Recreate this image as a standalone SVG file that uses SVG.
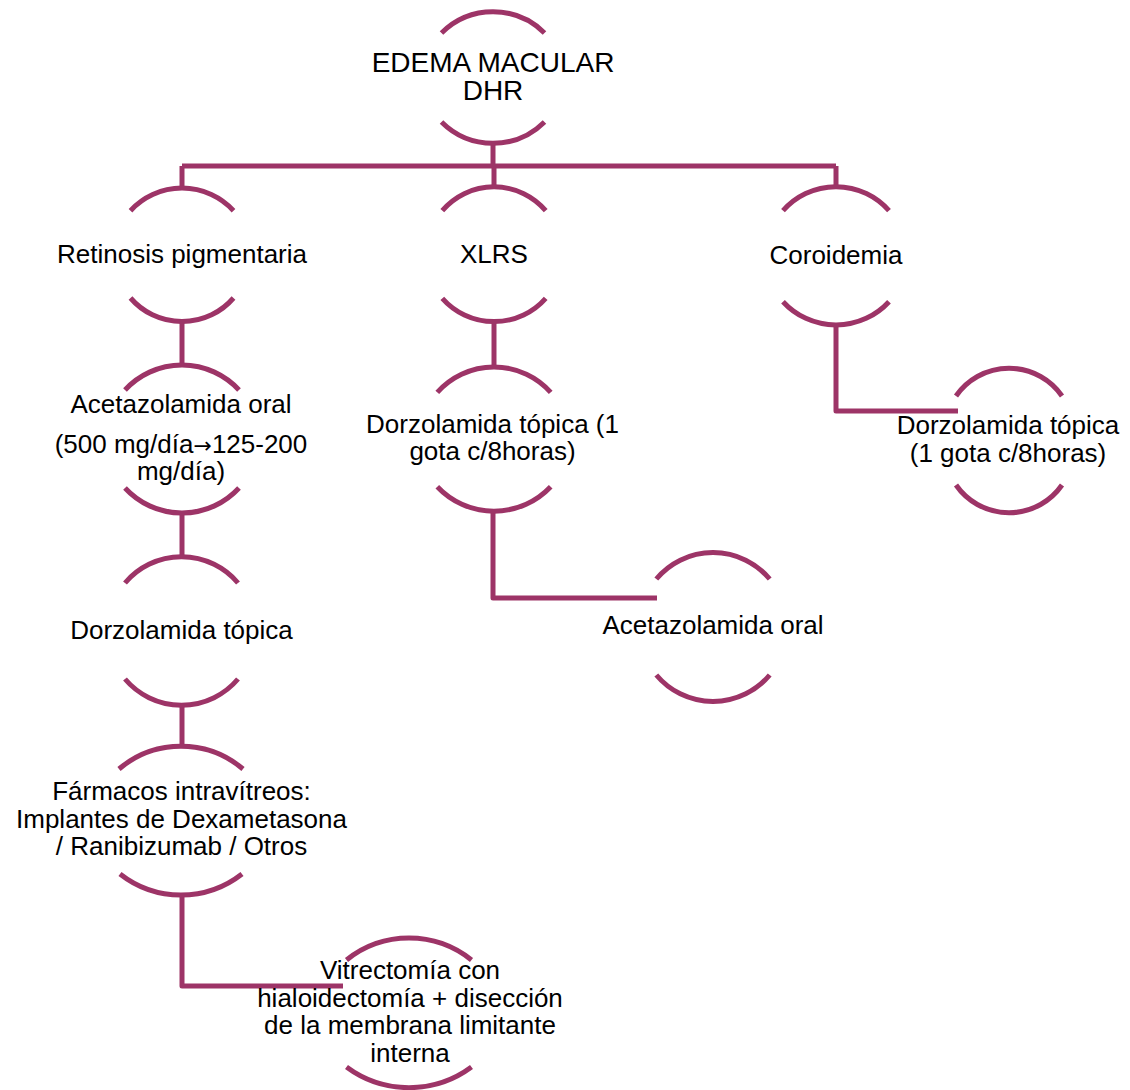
<svg xmlns="http://www.w3.org/2000/svg" width="1130" height="1090" viewBox="0 0 1130 1090">
<style>
.arc{fill:none;stroke:#9d3467;stroke-width:5;stroke-linecap:butt}
.con{fill:none;stroke:#9d3467;stroke-width:5;stroke-linejoin:round}
text{font-family:"Liberation Sans",Arial,sans-serif;font-size:26px;fill:#000;text-anchor:middle}
.root{font-size:28px}
.sym{font-family:"DejaVu Sans",sans-serif;font-size:22px}
</style>
<rect width="1130" height="1090" fill="#fff"/>
<g id="connectors">
<path class="con" d="M493 143 V166 M182 166 H836 M182 166 V188 M494 166 V187 M836 166 V187"/>
<path class="con" d="M182 321 V365"/>
<path class="con" d="M182 512 V557"/>
<path class="con" d="M182 705 V748"/>
<path class="con" d="M182 895 V986 H343"/>
<path class="con" d="M494 321 V367"/>
<path class="con" d="M493 510 V598 H657"/>
<path class="con" d="M836 325 V411 H958"/>
</g>
<g id="n-root">
<path class="arc" d="M441.5 33 A73 73 0 0 1 544.5 33"/>
<path class="arc" d="M441.5 122 A73 73 0 0 0 544.5 122"/>
<text class="root" x="493" y="72">EDEMA MACULAR</text>
<text class="root" x="493" y="100">DHR</text>
</g>
<g id="n-retinosis">
<path class="arc" d="M130.5 210.7 A70 70 0 0 1 233.5 210.7"/>
<path class="arc" d="M130.5 298 A68 68 0 0 0 233.5 298"/>
<text x="182" y="263">Retinosis pigmentaria</text>
</g>
<g id="n-xlrs">
<path class="arc" d="M442.3 210.7 A68 68 0 0 1 545.7 210.7"/>
<path class="arc" d="M442.3 298.3 A69 69 0 0 0 545.7 298.3"/>
<text x="494" y="263">XLRS</text>
</g>
<g id="n-coroidemia">
<path class="arc" d="M783 210.7 A70.5 70.5 0 0 1 889 210.7"/>
<path class="arc" d="M783 301.7 A72 72 0 0 0 889 301.7"/>
<text x="836" y="264">Coroidemia</text>
</g>
<g id="n-acetazolamida-rp">
<path class="arc" d="M125 390 A77.5 77.5 0 0 1 239 390"/>
<path class="arc" d="M125 488 A77.5 77.5 0 0 0 239 488"/>
<text x="181" y="413">Acetazolamida oral</text>
<text x="181" y="453">(500 mg/día<tspan class="sym">→</tspan>125-200</text>
<text x="181" y="480">mg/día)</text>
</g>
<g id="n-dorzolamida-rp">
<path class="arc" d="M125 583 A74 74 0 0 1 238 583"/>
<path class="arc" d="M125 679 A74 74 0 0 0 238 679"/>
<text x="181.5" y="639">Dorzolamida tópica</text>
</g>
<g id="n-farmacos">
<path class="arc" d="M119 769 A96 96 0 0 1 243 769"/>
<path class="arc" d="M120 874 A99 99 0 0 0 242 874"/>
<text x="181.5" y="800">Fármacos intravítreos:</text>
<text x="181.5" y="828">Implantes de Dexametasona</text>
<text x="181.5" y="855">/ Ranibizumab / Otros</text>
</g>
<g id="n-vitrectomia">
<path class="arc" d="M346.5 960 A100 100 0 0 1 471.5 960"/>
<path class="arc" d="M346.5 1067 A105 105 0 0 0 471.5 1067"/>
<text x="410" y="979">Vitrectomía con</text>
<text x="410" y="1007">hialoidectomía + disección</text>
<text x="410" y="1034">de la membrana limitante</text>
<text x="410" y="1062">interna</text>
</g>
<g id="n-dorzolamida-xlrs">
<path class="arc" d="M437.3 392.3 A76 76 0 0 1 550.7 392.3"/>
<path class="arc" d="M437.3 486.7 A78 78 0 0 0 550.7 486.7"/>
<text x="492.5" y="433">Dorzolamida tópica (1</text>
<text x="492.5" y="460">gota c/8horas)</text>
</g>
<g id="n-acetazolamida-xlrs">
<path class="arc" d="M656.3 579 A74 74 0 0 1 769.7 579"/>
<path class="arc" d="M656.3 675 A74 74 0 0 0 769.7 675"/>
<text x="713" y="634">Acetazolamida oral</text>
</g>
<g id="n-dorzolamida-coroidemia">
<path class="arc" d="M956 396 A64.5 64.5 0 0 1 1062 396"/>
<path class="arc" d="M956 485 A64.5 64.5 0 0 0 1062 485"/>
<text x="1008" y="434">Dorzolamida tópica</text>
<text x="1008" y="462">(1 gota c/8horas)</text>
</g>
</svg>
